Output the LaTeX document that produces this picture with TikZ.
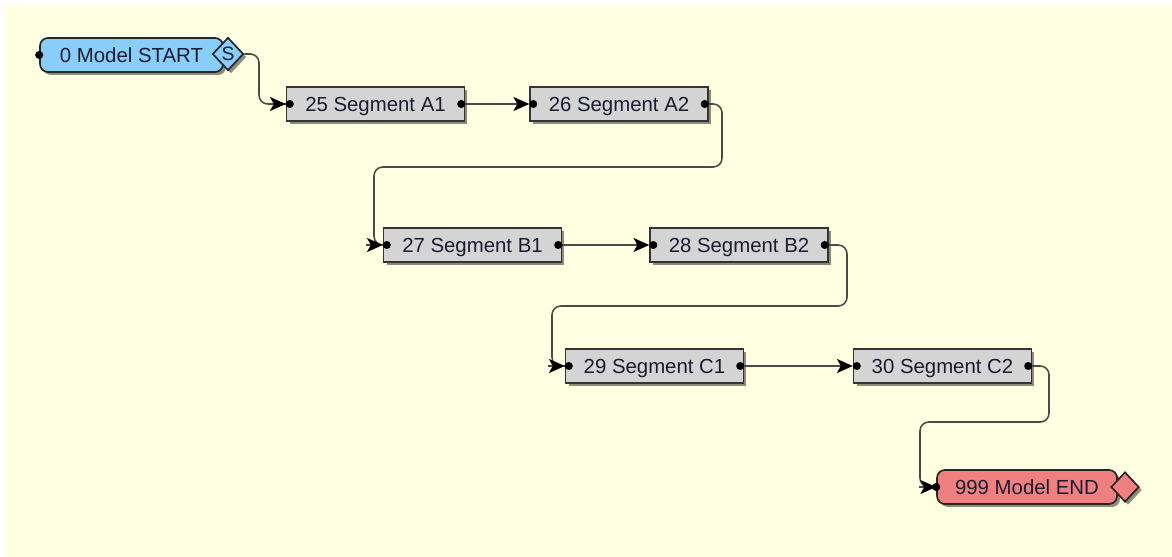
\documentclass[tikz,border=0pt]{standalone}
\usepackage{fontspec}
\setmainfont{Liberation Sans}
\usetikzlibrary{shapes.geometric,arrows.meta,shadows}
\definecolor{canvas}{HTML}{FFFFE1}
\definecolor{segfill}{HTML}{D4D4D4}
\definecolor{startfill}{HTML}{87CEFA}
\definecolor{endfill}{HTML}{F08080}
\definecolor{wire}{HTML}{4A4A4A}
\definecolor{ink}{HTML}{1A1A30}
\begin{document}
\begin{tikzpicture}[x=0.02cm,y=-0.02cm,
  shade/.style={drop shadow={shadow xshift=1.7pt,shadow yshift=-1.7pt,fill=black,opacity=0.45}},
  boxtext/.style={font=\fontsize{11.6}{13}\selectfont,text=ink,text depth=0pt},
  segment/.style={draw=black!80,line width=0.85pt,fill=segfill,minimum width=3.56cm,
    minimum height=0.68cm,inner sep=0pt,boxtext,shade},
  terminal/.style={draw=black!85,line width=0.95pt,rounded corners=4.5pt,minimum height=0.68cm,
    inner sep=0pt,boxtext,shade},
  gate/.style={diamond,draw=black!85,line width=0.95pt,minimum width=0.62cm,minimum height=0.66cm,
    inner sep=0pt,shade,font=\fontsize{11}{12}\selectfont,text=ink,text depth=0pt},
  wireline/.style={draw=wire,line width=0.9pt,rounded corners=5pt},
  tip/.style={-{Stealth[length=9pt,width=8pt,inset=2.2pt,color=black]}},
  flow/.style={wireline,tip},
  pin/.style={fill=black},
]
% canvas
\useasboundingbox (0,0) rectangle (1172,557);
\fill[white] (0,0) rectangle (1172,557);
\fill[canvas] (5,5) rectangle (1172,557);

% start and end terminals
\node[terminal,fill=startfill,minimum width=3.66cm] (start) at (131.5,55) {0 Model START};
\node[gate,fill=startfill] (sgate) at (228,54) {S};
\node[terminal,fill=endfill,minimum width=3.6cm] (finish) at (1027,487) {999 Model END};
\node[gate,fill=endfill,minimum width=0.56cm,minimum height=0.6cm] (egate) at (1125,487) {};

% segments
\node[segment] (A1) at (375.5,104) {25 Segment A1};
\node[segment] (A2) at (619,104) {26 Segment A2};
\node[segment] (B1) at (472.5,245) {27 Segment B1};
\node[segment] (B2) at (739,245) {28 Segment B2};
\node[segment] (C1) at (654.5,366) {29 Segment C1};
\node[segment] (C2) at (942.5,366) {30 Segment C2};

% bend points of the wires
\coordinate (inA1) at (259,104);
\coordinate (bendAB) at (722,167);
\coordinate (inB1) at (374,245);
\coordinate (bendBC) at (847,306);
\coordinate (inC1) at (552,366);
\coordinate (bendCE) at (1049,422);
\coordinate (inEnd) at (920,487);

% straight wires
\draw[flow] (A1.east) -- (A2.west);
\draw[flow] (B1.east) -- (B2.west);
\draw[flow] (C1.east) -- (C2.west);

% bent wires; the heads are laid over their last stretch
\draw[wireline] (sgate.east) -| (inA1) -- (A1.west);
\draw[wireline] (A2.east) -| (bendAB) -| (inB1) -- (B1.west);
\draw[wireline] (B2.east) -| (bendBC) -| (inC1) -- (C1.west);
\draw[wireline] (C2.east) -| (bendCE) -| (inEnd) -- (finish.west);
\foreach \n in {A1,B1,C1,finish}{
  \draw[wireline,tip] (\n.west) ++(-17,0) -- (\n.west);
}

% connection pins
\foreach \n in {A1,A2,B1,B2,C1,C2}{
  \fill[pin] (\n.west) ++(4,0) circle (2.3pt);
  \fill[pin] (\n.east) ++(-4,0) circle (2.3pt);
}
\fill[pin] (start.west) circle (2.3pt);
\fill[pin] (finish.west) circle (2.3pt);
\end{tikzpicture}
\end{document}
